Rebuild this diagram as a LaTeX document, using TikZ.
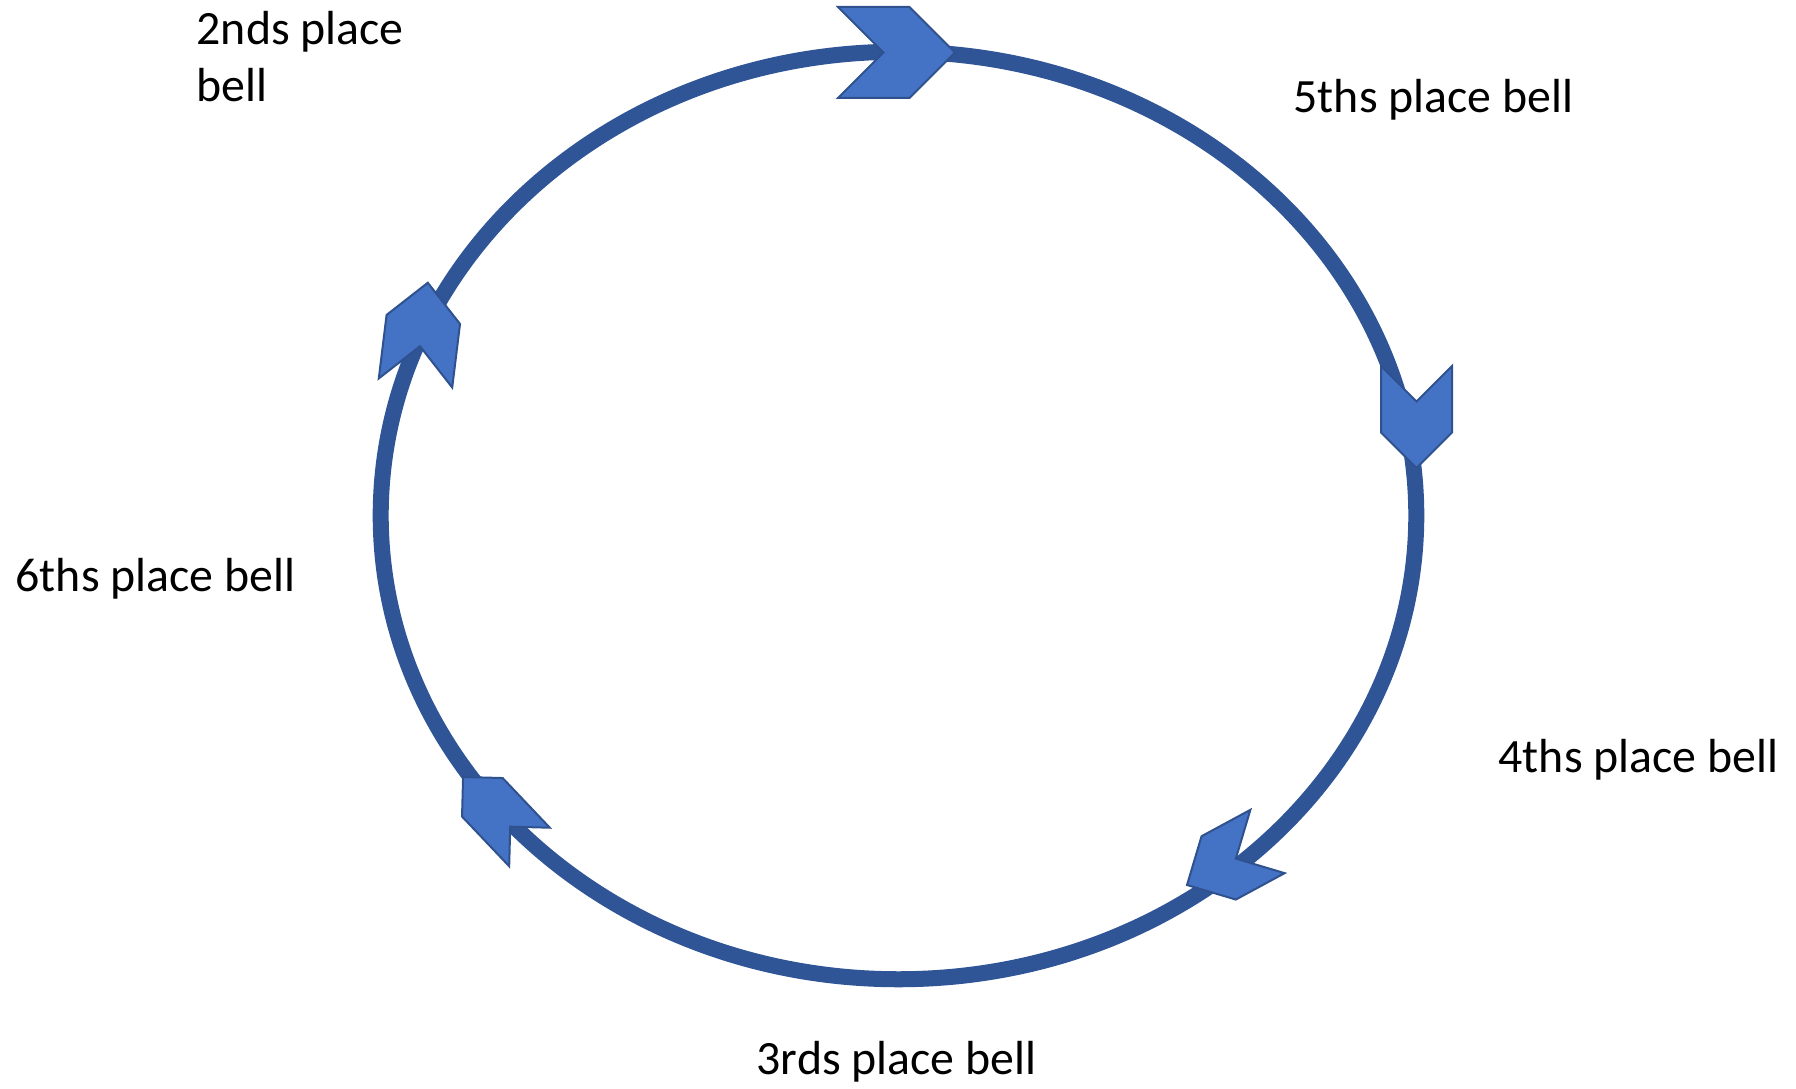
\documentclass[tikz,border=0pt]{standalone}
\usepackage{fontspec}
\setmainfont{Carlito}
\usepackage{tikz}
\usetikzlibrary{positioning}
\definecolor{ringblue}{HTML}{2F5597}
\definecolor{chevfill}{HTML}{4472C4}
\definecolor{chevline}{HTML}{2F528F}
\tikzstyle{ring} = [draw=ringblue, line width=0.16cm]
\tikzstyle{chev} = [fill=chevfill, draw=chevline, line width=0.02cm, line join=miter]
\newcommand{\bellarrow}[5]{%
  \begin{scope}[shift={(#1,#2)}, rotate=#3]
    \filldraw[chev] (0,#4) -- ({#5-#4},#4) -- (#5,0) -- ({#5-#4},-#4) -- (0,-#4) -- (#4,0) -- cycle;
  \end{scope}}

\begin{document}
\begin{tikzpicture}[
        x=0.01cm, y=-0.01cm,
        lbl/.style={inner sep=0pt, anchor=base west, align=left, font=\fontsize{13.6}{16.3}\selectfont}
        ]
        \useasboundingbox (0,0) rectangle (1796,1089);

        \draw[ring] (898.5,515.5) ellipse [x radius=5.175cm, y radius=4.635cm];

        \bellarrow{838}{52.5}{0}{45.5}{117}
        \bellarrow{1416.5}{366}{-90}{35.5}{102}
        \bellarrow{1267.5}{841.5}{208.4}{36}{91.5}
        \bellarrow{529.5}{847}{133.5}{28}{96.5}
        \bellarrow{415.5}{383}{83}{37}{101}

        \node[lbl] (second) at (196,102) {2nds place\\bell};
        \node[lbl] (fifth) at (1293,113) {5ths place bell};
        \node[lbl] (fourth) at (1498,773) {4ths place bell};
        \node[lbl] (sixth) at (15,592) {6ths place bell};
        \node[lbl] (third) at (756,1075) {3rds place bell};

    \end{tikzpicture}
\end{document}
